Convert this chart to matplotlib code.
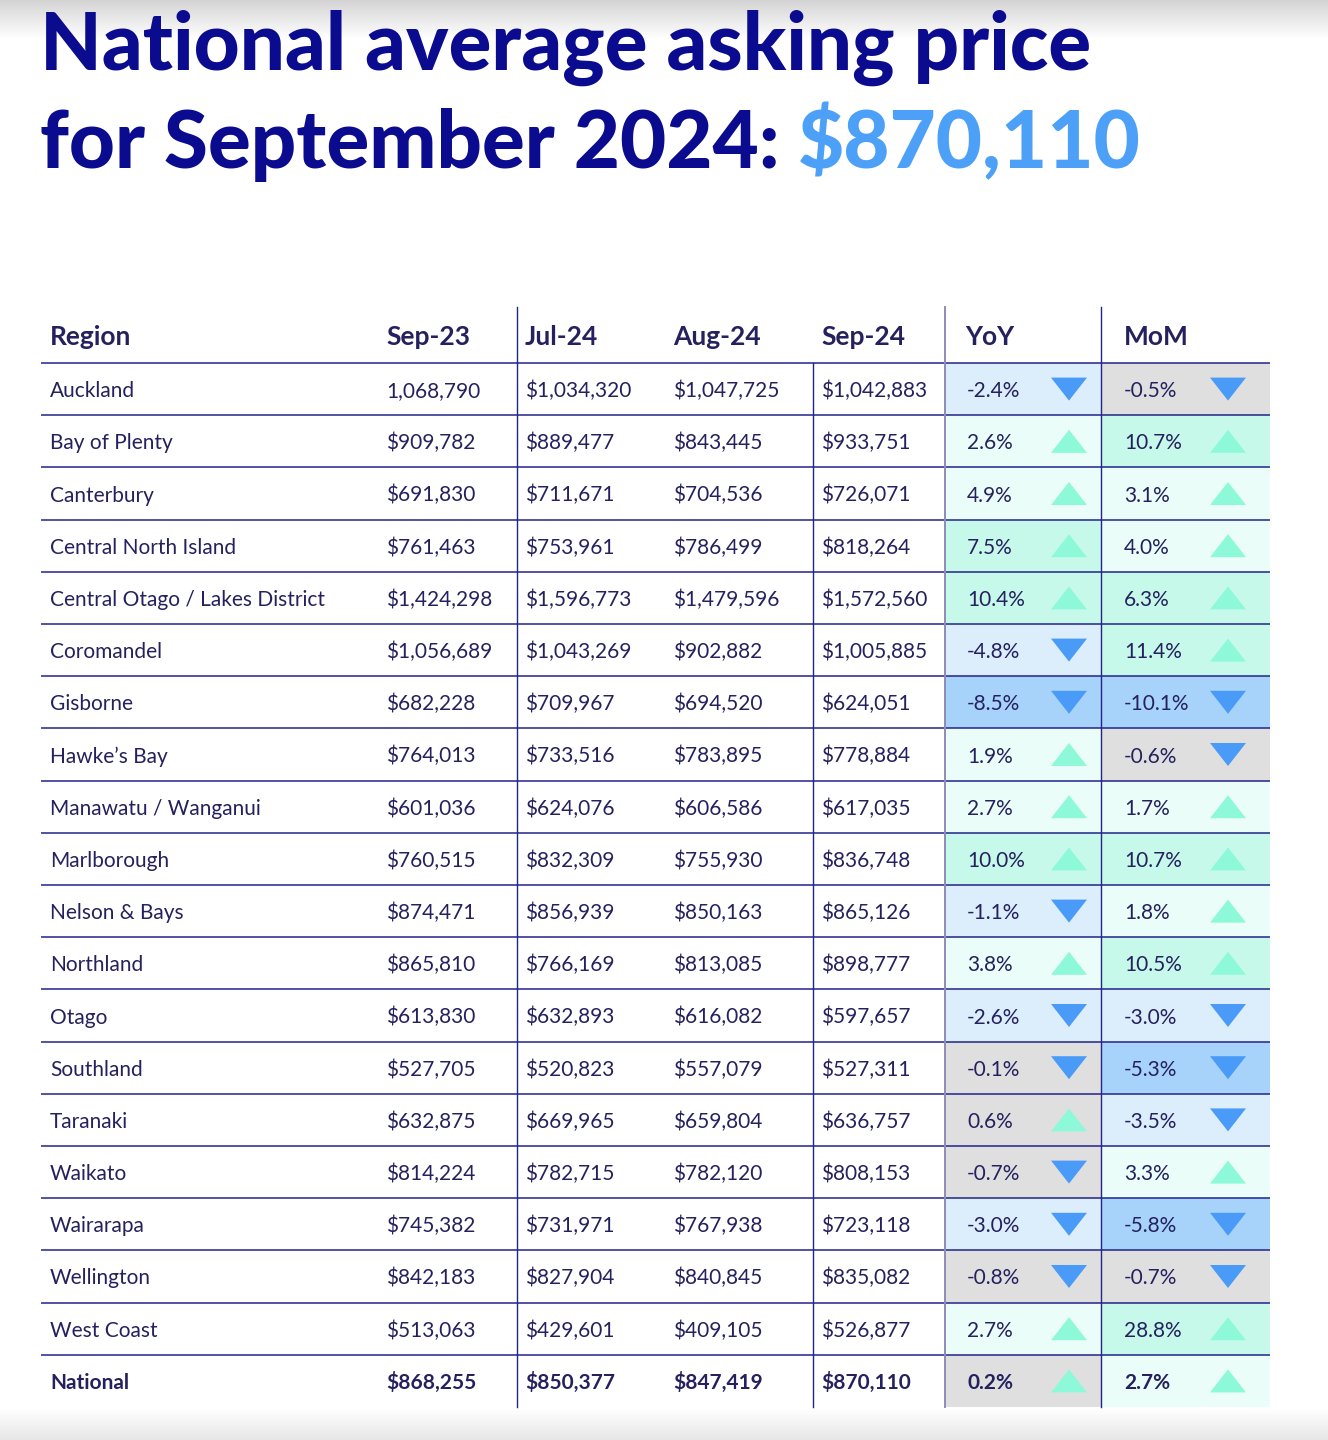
import matplotlib
matplotlib.use("Agg")
import matplotlib.pyplot as plt
import numpy as np
from matplotlib.patches import Polygon, Rectangle

# ---------------- data ----------------
regions = ["Auckland", "Bay of Plenty", "Canterbury", "Central North Island",
           "Central Otago / Lakes District", "Coromandel", "Gisborne", "Hawke\u2019s Bay",
           "Manawatu / Wanganui", "Marlborough", "Nelson & Bays", "Northland", "Otago",
           "Southland", "Taranaki", "Waikato", "Wairarapa", "Wellington", "West Coast",
           "National"]
sep23 = [1068790, 909782, 691830, 761463, 1424298, 1056689, 682228, 764013, 601036,
         760515, 874471, 865810, 613830, 527705, 632875, 814224, 745382, 842183, 513063,
         868255]
jul24 = [1034320, 889477, 711671, 753961, 1596773, 1043269, 709967, 733516, 624076,
         832309, 856939, 766169, 632893, 520823, 669965, 782715, 731971, 827904, 429601,
         850377]
aug24 = [1047725, 843445, 704536, 786499, 1479596, 902882, 694520, 783895, 606586,
         755930, 850163, 813085, 616082, 557079, 659804, 782120, 767938, 840845, 409105,
         847419]
sep24 = [1042883, 933751, 726071, 818264, 1572560, 1005885, 624051, 778884, 617035,
         836748, 865126, 898777, 597657, 527311, 636757, 808153, 723118, 835082, 526877,
         870110]
yoy = [-2.4, 2.6, 4.9, 7.5, 10.4, -4.8, -8.5, 1.9, 2.7, 10.0, -1.1, 3.8, -2.6, -0.1,
       0.6, -0.7, -3.0, -0.8, 2.7, 0.2]
mom = [-0.5, 10.7, 3.1, 4.0, 6.3, 11.4, -10.1, -0.6, 1.7, 10.7, 1.8, 10.5, -3.0, -5.3,
       -3.5, 3.3, -5.8, -0.7, 28.8, 2.7]
headers = ["Region", "Sep-23", "Jul-24", "Aug-24", "Sep-24", "YoY", "MoM"]
title_line1 = "National average asking price"
title_line2 = "for September 2024:"
title_value = "$870,110"

# ---------------- style ----------------
W, H = 1328, 1440
NAVY_TXT = "#25215E"
NAVY_LINE = "#23238C"
TITLE_C = "#0B0B8F"
ACCENT = "#4DA0F7"
UP_C = "#8DF9D9"
DOWN_C = "#4A9BF7"
BODY_FONT = ["Lato", "DejaVu Sans"]


def cell_color(v):
    if v <= -5:
        return "#A7D3FA"
    if v <= -1:
        return "#DCEDFC"
    if v < 1:
        return "#DFDFDF"
    if v < 5:
        return "#EAFDF8"
    return "#C6F9EA"


def money(v, dollar=True):
    return ("$" if dollar else "") + f"{v:,}"


fig = plt.figure(figsize=(W / 100, H / 100), dpi=100)
ax = fig.add_axes([0, 0, 1, 1])
ax.set_xlim(0, W)
ax.set_ylim(H, 0)
ax.axis("off")

# background gradients (top and bottom)
ax.imshow(np.tile(np.linspace(0.83, 1.0, 40)[:, None], (1, 2)), cmap="gray", vmin=0, vmax=1,
          extent=[0, W, 40, 0], aspect="auto", zorder=0)
ax.imshow(np.tile(np.linspace(1.0, 0.90, 33)[:, None], (1, 2)), cmap="gray", vmin=0, vmax=1,
          extent=[0, W, H, 1407], aspect="auto", zorder=0)
ax.set_xlim(0, W)
ax.set_ylim(H, 0)

# title
TFS = 57.5
ax.text(40, 70, title_line1, fontsize=TFS, fontweight="black", color=TITLE_C,
        family=BODY_FONT, ha="left", va="baseline")
t2 = ax.text(40, 168, title_line2, fontsize=TFS, fontweight="black", color=TITLE_C,
             family=BODY_FONT, ha="left", va="baseline")
ax.annotate(title_value, xy=(1, 0), xycoords=t2, xytext=(13, 0), textcoords="offset points",
            fontsize=TFS, fontweight="black", color=ACCENT, family=BODY_FONT,
            ha="left", va="bottom")

# table geometry
left, right = 41, 1270
header_top, header_bot = 307, 363
row_h = 52.2
col_x = [50, 386, 525, 673, 821, 965, 1124]
yoy_l, mom_l = 945, 1101
arrow_x = [1069, 1228]
n = len(regions)
row_top = [header_bot + i * row_h for i in range(n)]
bottom = header_bot + n * row_h

# cell backgrounds
for i in range(n):
    ax.add_patch(Rectangle((yoy_l, row_top[i]), mom_l - yoy_l, row_h,
                           facecolor=cell_color(yoy[i]), edgecolor="none", zorder=1))
    ax.add_patch(Rectangle((mom_l, row_top[i]), right - mom_l, row_h,
                           facecolor=cell_color(mom[i]), edgecolor="none", zorder=1))

# horizontal lines
for i in range(n):
    ax.plot([left, right], [row_top[i], row_top[i]], color=NAVY_LINE, lw=1.1, zorder=2,
            solid_capstyle="butt")
# vertical lines
ax.plot([517, 517], [header_top, bottom], color=NAVY_LINE, lw=1.0, zorder=2)
ax.plot([813, 813], [header_bot, bottom], color=NAVY_LINE, lw=1.0, zorder=2)
ax.plot([yoy_l, yoy_l], [header_top, bottom], color="#8E8CB8", lw=1.4, zorder=2)
ax.plot([mom_l, mom_l], [header_top, bottom], color=NAVY_LINE, lw=1.0, zorder=2)

# headers
for x, h in zip(col_x, headers):
    ax.text(x, 345, h, fontsize=19, fontweight="bold", color=NAVY_TXT, family=BODY_FONT,
            ha="left", va="baseline", zorder=3)

# rows
for i in range(n):
    yc = row_top[i] + row_h / 2
    yb = yc + 8
    bold = regions[i] == "National"
    fw = "bold" if bold else "normal"
    vals = [regions[i], money(sep23[i], dollar=(i != 0)), money(jul24[i]), money(aug24[i]),
            money(sep24[i]), f"{yoy[i]:.1f}%", f"{mom[i]:.1f}%"]
    xs = list(col_x)
    xs[5] = 967
    for x, s in zip(xs, vals):
        ax.text(x, yb, s, fontsize=15, fontweight=fw, color=NAVY_TXT, family=BODY_FONT,
                ha="left", va="baseline", zorder=3)
    for ax_x, v in zip(arrow_x, [yoy[i], mom[i]]):
        hw, hh = 18, 11.5
        if v >= 0:
            pts = [(ax_x - hw, yc + hh), (ax_x + hw, yc + hh), (ax_x, yc - hh)]
            c = UP_C
        else:
            pts = [(ax_x - hw, yc - hh), (ax_x + hw, yc - hh), (ax_x, yc + hh)]
            c = DOWN_C
        ax.add_patch(Polygon(pts, closed=True, facecolor=c, edgecolor="none", zorder=3))

fig.savefig("out.png", dpi=100)
